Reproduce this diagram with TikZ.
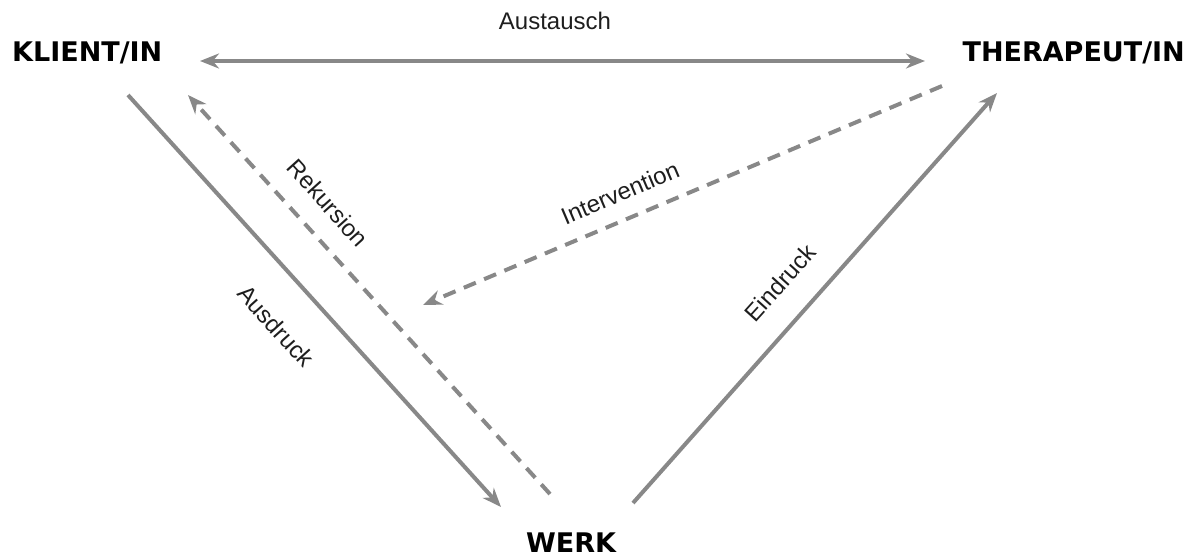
\documentclass[tikz,border=0pt]{standalone}
\usepackage{fontspec}
\setmainfont{Liberation Sans}
\newfontfamily\headfont{DejaVu Sans}
\usetikzlibrary{arrows.meta}
\definecolor{linegray}{HTML}{888888}
\definecolor{textdark}{HTML}{1E1E1E}
\tikzset{
  x=1pt, y=-1pt,
  head/.style={font=\headfont\bfseries\fontsize{27}{30}\selectfont, text=black, inner sep=0pt},
  lbl/.style={font=\fontsize{24}{28}\selectfont, text=textdark, inner sep=0pt},
  conn/.style={draw=linegray, line width=4pt, -{Stealth[length=19pt,width=15pt]}},
  dconn/.style={conn, dash pattern=on 13pt off 9pt},
}
\begin{document}
\begin{tikzpicture}
\useasboundingbox (0,0) rectangle (1197,558);
% main nodes
\node[head, anchor=west] (klient) at (12,53) {KLIENT/IN};
\node[head, anchor=east] (therapeut) at (1185,53) {THERAPEUT/IN};
\node[head] (werk) at (571,543) {WERK};
% connector end points
\coordinate (aA) at (200,61);
\coordinate (aB) at (925,61);
\coordinate (dS) at (128,95);
\coordinate (dE) at (501,507);
\coordinate (rS) at (550,494);
\coordinate (rE) at (188,95);
\coordinate (eS) at (633,503);
\coordinate (eE) at (997,93);
\coordinate (iS) at (942,86);
\coordinate (iE) at (423,305);
% connectors
\draw[conn, {Stealth[length=19pt,width=15pt]}-{Stealth[length=19pt,width=15pt]}] (aA) -- (aB);
\draw[conn] (dS) -- (dE);
\draw[dconn] (rS) -- (rE);
\draw[conn] (eS) -- (eE);
\draw[dconn] (iS) -- (iE);
% labels
\node[lbl] (austausch) at (555,21) {Austausch};
\node[lbl, rotate=-48] (rekursion) at (328,203) {Rekursion};
\node[lbl, rotate=-48] (ausdruck) at (276,326) {Ausdruck};
\node[lbl, rotate=23] (intervention) at (620,193) {Intervention};
\node[lbl, rotate=48] (eindruck) at (780,283) {Eindruck};
\end{tikzpicture}
\end{document}
